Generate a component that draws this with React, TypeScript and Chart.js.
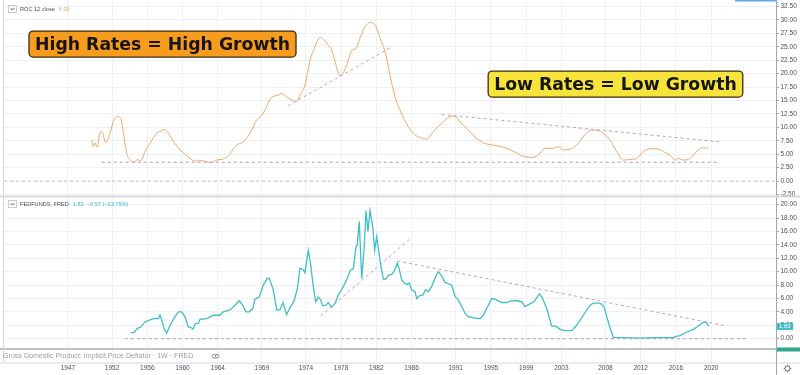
import React, { useEffect, useRef } from 'react';
import { Chart, registerables } from 'chart.js';

Chart.register(...registerables);

const FONT = "'Liberation Sans', Arial, sans-serif";

// ROC 12 of GDP Implicit Price Deflator (top pane)
const rocYears = [1949.69, 1949.84, 1950.06, 1950.29, 1950.71, 1950.94, 1951.28, 1951.77, 1952.22, 1952.6, 1952.98, 1953.36, 1953.66, 1954.04, 1954.49, 1954.87, 1955.25, 1955.74, 1956.31, 1957.07, 1957.44, 1957.9, 1958.27, 1958.88, 1959.41, 1960.09, 1960.65, 1961.42, 1961.98, 1962.74, 1963.23, 1963.88, 1964.63, 1965.2, 1966.15, 1966.9, 1967.77, 1968.42, 1968.79, 1969.36, 1970.01, 1970.87, 1971.26, 1971.82, 1972.39, 1972.96, 1973.33, 1973.9, 1974.47, 1975.04, 1975.6, 1975.98, 1976.55, 1976.93, 1977.42, 1977.87, 1978.33, 1978.82, 1979.2, 1979.69, 1980.14, 1980.71, 1981.28, 1981.85, 1982.41, 1982.98, 1983.55, 1984.12, 1984.68, 1985.63, 1986.39, 1986.96, 1987.72, 1988.46, 1989.41, 1990.36, 1990.93, 1991.49, 1992.26, 1993.2, 1994.33, 1995.27, 1996.8, 1997.93, 1998.87, 1999.81, 2000.58, 2001.14, 2002.09, 2002.65, 2003.22, 2003.98, 2004.74, 2005.68, 2006.44, 2007.19, 2007.76, 2008.52, 2009.28, 2010.03, 2010.79, 2011.55, 2012.3, 2013.06, 2013.82, 2014.57, 2015.33, 2015.9, 2016.27, 2016.84, 2017.41, 2017.98, 2018.54, 2019.11, 2019.68];
const rocValues = [7.6, 6.4, 7.1, 6.3, 9.2, 8.9, 7.2, 8.9, 11.4, 12.0, 11.7, 8.2, 5.2, 4.0, 3.4, 4.0, 3.8, 5.5, 7.0, 8.9, 9.2, 9.6, 9.2, 7.6, 6.4, 5.2, 4.5, 3.7, 3.8, 3.6, 3.4, 3.9, 4.1, 4.7, 6.7, 7.3, 9.2, 11.4, 11.9, 13.2, 15.4, 16.0, 16.3, 15.7, 15.1, 14.8, 16.0, 17.9, 22.5, 25.0, 26.8, 26.4, 25.3, 24.4, 21.6, 19.6, 20.4, 22.5, 24.3, 24.7, 26.6, 28.7, 29.5, 29.1, 26.6, 24.1, 19.7, 15.7, 13.2, 10.1, 8.6, 8.1, 7.8, 9.2, 10.7, 12.0, 12.1, 11.0, 9.8, 8.2, 7.0, 6.7, 6.1, 5.2, 4.5, 4.4, 5.2, 6.1, 6.1, 6.4, 5.8, 5.9, 6.7, 8.6, 9.5, 9.4, 8.9, 7.6, 5.5, 3.9, 4.0, 4.2, 5.5, 6.0, 6.0, 5.5, 4.8, 3.9, 4.2, 3.9, 4.0, 4.8, 5.8, 6.2, 6.09];

// FEDFUNDS (bottom pane)
const fedYears = [1954.15, 1954.49, 1954.87, 1955.25, 1955.74, 1956.31, 1956.68, 1957.25, 1957.44, 1957.64, 1957.9, 1958.2, 1958.58, 1959.14, 1959.52, 1959.91, 1960.28, 1960.65, 1961.04, 1961.22, 1961.42, 1961.79, 1961.98, 1962.74, 1963.49, 1964.25, 1964.63, 1965.39, 1965.96, 1966.44, 1966.83, 1967.2, 1967.58, 1967.96, 1968.23, 1968.71, 1969.17, 1969.62, 1969.85, 1970.3, 1970.69, 1971.06, 1971.4, 1971.8, 1972.2, 1972.65, 1973.03, 1973.33, 1973.71, 1973.9, 1974.28, 1974.55, 1974.84, 1975.12, 1975.41, 1975.68, 1975.91, 1976.28, 1976.55, 1976.93, 1977.31, 1977.68, 1978.07, 1978.63, 1979.09, 1979.38, 1979.69, 1979.84, 1980.06, 1980.34, 1980.6, 1980.83, 1981.05, 1981.28, 1981.59, 1981.81, 1982.04, 1982.22, 1982.49, 1982.79, 1983.1, 1983.36, 1983.74, 1984.0, 1984.38, 1984.61, 1984.88, 1985.14, 1985.51, 1985.74, 1986.01, 1986.39, 1986.58, 1986.88, 1987.26, 1987.6, 1987.9, 1988.28, 1988.66, 1989.03, 1989.41, 1989.79, 1990.17, 1990.55, 1990.93, 1991.3, 1991.69, 1992.06, 1992.44, 1993.01, 1993.77, 1994.14, 1995.09, 1995.47, 1996.23, 1996.8, 1997.17, 1997.93, 1998.5, 1998.87, 1999.44, 1999.89, 2000.5, 2000.77, 2001.34, 2001.9, 2002.47, 2002.84, 2003.41, 2004.17, 2004.74, 2005.49, 2006.25, 2006.63, 2007.39, 2007.84, 2008.21, 2008.6, 2008.9, 2010.0, 2011.93, 2013.63, 2015.71, 2016.0, 2016.47, 2017.23, 2017.98, 2018.54, 2019.04, 2019.42, 2019.72];
const fedValues = [0.9, 0.9, 1.55, 1.7, 2.5, 2.8, 3.0, 3.0, 3.5, 2.8, 1.55, 0.8, 2.0, 3.3, 4.0, 4.0, 3.3, 1.8, 1.6, 1.45, 2.2, 2.3, 2.9, 3.0, 3.5, 3.5, 4.0, 4.3, 5.0, 5.7, 5.0, 4.0, 4.0, 4.5, 5.9, 6.2, 8.0, 9.0, 9.0, 7.3, 4.3, 4.3, 5.4, 3.6, 4.6, 5.6, 7.4, 10.5, 10.3, 9.85, 13.2, 11.0, 7.8, 5.5, 6.2, 5.8, 4.9, 5.0, 5.4, 4.7, 5.3, 6.5, 7.3, 8.8, 10.3, 10.4, 13.7, 14.0, 17.5, 9.0, 13.2, 19.1, 16.0, 19.1, 16.7, 13.2, 15.2, 13.5, 11.0, 8.9, 8.9, 9.5, 9.6, 10.0, 11.3, 10.3, 8.8, 8.3, 8.1, 8.3, 7.3, 7.0, 6.0, 6.4, 6.5, 7.3, 7.0, 7.8, 9.0, 10.0, 9.4, 8.4, 8.2, 8.0, 6.3, 5.8, 4.8, 3.8, 3.3, 3.1, 3.0, 3.5, 6.0, 5.9, 5.4, 5.4, 5.6, 5.7, 5.5, 4.8, 5.2, 5.5, 6.7, 6.3, 4.5, 1.9, 1.8, 1.4, 1.2, 1.2, 2.0, 3.5, 5.0, 5.3, 5.3, 4.8, 3.0, 1.3, 0.2, 0.15, 0.1, 0.15, 0.15, 0.35, 0.45, 1.0, 1.4, 1.9, 2.4, 2.5, 1.83];

// drawn trend lines
const rocUpYears = [1971.97, 1983.55];
const rocUpValues = [14.0, 24.8];
const rocDownYears = [1989.42, 2020.93];
const rocDownValues = [12.4, 7.3];
const rocFloorYears = [1950.83, 2020.63];
const rocFloorValues = [3.5, 3.5];
const fedUpYears = [1975.68, 1985.82];
const fedUpValues = [3.4, 14.9];
const fedDownYears = [1984.38, 2021.38];
const fedDownValues = [11.6, 2.0];
const fedFloorYears = [1953.47, 2024.18];
const fedFloorValues = [0, 0];

// axes
const xMinYear = 1939.74;
const xMaxYear = 2027.36;
const xTickYears = [1947, 1952, 1956, 1960, 1964, 1969, 1974, 1978, 1982, 1986, 1991, 1995, 1999, 2003, 2008, 2012, 2016, 2020];
const rocTicks = [-2.5, 0, 2.5, 5, 7.5, 10, 12.5, 15, 17.5, 20, 22.5, 25, 27.5, 30, 32.5];
const fedTicks = [0, 2, 4, 6, 8, 10, 12, 14, 16, 18, 20];
const rocAxisMin = -2.886;
const rocAxisMax = 33.71;
const fedAxisMin = -1.537;
const fedAxisMax = 21.22;
const rocZeroYears = [xMinYear, xMaxYear];
const rocZeroValues = [0, 0];

// texts
const rocTitle = 'ROC 12 close';
const rocLast = '6.09';
const fedTitle = 'FEDFUNDS, FRED';
const fedLast = '1.83';
const fedChange = '\u22120.57 (\u221223.75%)';
const gdpTitle = 'Gross Domestic Product: Implicit Price Deflator \u00b7 1W \u00b7 FRED';
const highNote = 'High Rates = High Growth';
const lowNote = 'Low Rates = Low Growth';
const highNoteYear = 1957.73;
const highNoteValue = 25.5;
const lowNoteYear = 2009.14;
const lowNoteValue = 18.06;

const pts = (xs: number[], ys: number[]) => xs.map((x, i) => ({ x, y: ys[i] }));

const GRID = '#eef0f4';
const AXIS = '#a3a6af';
const TEXT = '#4a4e57';
const ORANGE = '#f2a66a';
const TEAL = '#3fbdc8';
const TREND = '#c99ac6';

export default function App() {
  const ref = useRef<HTMLCanvasElement>(null);

  useEffect(() => {
    document.body.style.margin = '0';
    const canvas = ref.current!;

    const overlay = {
      id: 'overlay',
      afterDraw(chart: any) {
        const ctx = chart.ctx as CanvasRenderingContext2D;
        const ca = chart.chartArea;
        const sx = chart.scales.x;
        const sT = chart.scales.yTop;
        const sB = chart.scales.yBot;
        ctx.save();

        const hline = (y: number, color: string, w: number) => {
          ctx.beginPath();
          ctx.strokeStyle = color;
          ctx.lineWidth = w;
          ctx.moveTo(0, y);
          ctx.lineTo(800, y);
          ctx.stroke();
        };
        hline(sT.bottom, '#d6d8de', 2);
        hline(sB.bottom, '#a9acb4', 1.5);
        hline(ca.bottom + 0.5, '#d6d8de', 1);
        ctx.beginPath();
        ctx.strokeStyle = '#d6d8de';
        ctx.lineWidth = 1;
        ctx.moveTo(3.5, 0);
        ctx.lineTo(3.5, ca.bottom);
        ctx.stroke();
        ctx.beginPath();
        ctx.strokeStyle = AXIS;
        ctx.moveTo(ca.right + 0.5, ca.bottom);
        ctx.lineTo(ca.right + 0.5, 375);
        ctx.stroke();
        ctx.fillStyle = '#6aa6f0';
        ctx.fillRect(735, 0, ca.right - 735, 1.5);

        const toggle = (y: number) => {
          ctx.strokeStyle = '#c9ccd3';
          ctx.lineWidth = 1;
          ctx.strokeRect(8.5, y - 3.5, 8, 7);
          ctx.beginPath();
          ctx.strokeStyle = '#50535e';
          ctx.moveTo(10.8, y - 0.8);
          ctx.lineTo(12.5, y + 1);
          ctx.lineTo(14.2, y - 0.8);
          ctx.stroke();
        };
        ctx.textBaseline = 'middle';
        ctx.textAlign = 'left';
        ctx.font = `5.6px ${FONT}`;
        toggle(9);
        ctx.fillStyle = TEXT;
        ctx.fillText(rocTitle, 20, 9.5);
        let w = ctx.measureText(rocTitle).width;
        ctx.fillStyle = ORANGE;
        ctx.fillText(rocLast, 20 + w + 4, 9.5);

        toggle(204);
        ctx.fillStyle = TEXT;
        ctx.fillText(fedTitle, 20, 204.5);
        w = ctx.measureText(fedTitle).width;
        ctx.fillStyle = TEAL;
        ctx.fillText(fedLast + '  ' + fedChange, 20 + w + 4, 204.5);

        const ey = (sB.bottom + ca.bottom) / 2 + 0.5;
        ctx.font = `7.1px ${FONT}`;
        ctx.fillStyle = '#9a9da6';
        ctx.fillText(gdpTitle, 3, ey);
        ctx.strokeStyle = '#8a8d96';
        ctx.beginPath();
        ctx.ellipse(215.5, ey, 3.5, 2, 0, 0, Math.PI * 2);
        ctx.stroke();
        ctx.beginPath();
        ctx.arc(215.5, ey, 1, 0, Math.PI * 2);
        ctx.fillStyle = '#8a8d96';
        ctx.fill();

        const fy = sB.getPixelForValue(1.83);
        ctx.fillStyle = TEAL;
        ctx.fillRect(ca.right + 1, fy - 3.5, 16, 7);
        ctx.fillStyle = '#ffffff';
        ctx.font = `6px ${FONT}`;
        ctx.fillText(fedLast, ca.right + 3, fy + 0.3);
        ctx.fillStyle = '#2fa88f';
        ctx.fillRect(ca.right + 1, sB.bottom - 1.5, 800 - ca.right - 1, 4);

        ctx.strokeStyle = '#6a6d76';
        ctx.lineWidth = 1;
        ctx.beginPath();
        ctx.arc(787.5, 368.5, 2.6, 0, Math.PI * 2);
        ctx.stroke();
        for (let k = 0; k < 8; k++) {
          const a = (k * Math.PI) / 4;
          ctx.beginPath();
          ctx.moveTo(787.5 + Math.cos(a) * 2.6, 368.5 + Math.sin(a) * 2.6);
          ctx.lineTo(787.5 + Math.cos(a) * 3.8, 368.5 + Math.sin(a) * 3.8);
          ctx.stroke();
        }

        const note = (text: string, xv: number, yv: number, fill: string) => {
          const cx = sx.getPixelForValue(xv);
          const cy = sT.getPixelForValue(yv);
          ctx.font = `bold 17.3px 'DejaVu Sans', Verdana, sans-serif`;
          const tw = ctx.measureText(text).width + 12;
          const h = 26;
          ctx.beginPath();
          ctx.roundRect(cx - tw / 2, cy - h / 2, tw, h, 4);
          ctx.fillStyle = fill;
          ctx.fill();
          ctx.lineWidth = 1.3;
          ctx.strokeStyle = '#3b2b12';
          ctx.stroke();
          ctx.fillStyle = '#151515';
          ctx.textAlign = 'center';
          ctx.textBaseline = 'middle';
          ctx.fillText(text, cx, cy + 1);
          ctx.textAlign = 'left';
        };
        note(highNote, highNoteYear, highNoteValue, '#f89c1e');
        note(lowNote, lowNoteYear, lowNoteValue, '#f7e43a');

        ctx.restore();
      },
    };

    const dashed = (xs: number[], ys: number[], axis: string, color: string) => ({
      data: pts(xs, ys),
      yAxisID: axis,
      borderColor: color,
      borderWidth: 1,
      borderDash: [3, 3],
      pointRadius: 0,
      fill: false,
    });

    const noPad = (s: any) => {
      s.paddingTop = 0;
      s.paddingBottom = 0;
      s.paddingLeft = 0;
      s.paddingRight = 0;
    };

    const yCommon = (min: number, max: number, ticks: number[]) => ({
      type: 'linear',
      position: 'right',
      stack: 'panes',
      min,
      max,
      afterBuildTicks: (s: any) => {
        s.ticks = ticks.map((v) => ({ value: v }));
      },
      afterFit: (s: any) => {
        s.width = 24;
        noPad(s);
      },
      grid: { color: GRID, tickLength: 3, tickColor: AXIS },
      border: { display: true, color: AXIS },
      ticks: {
        padding: 1.5,
        color: TEXT,
        font: { size: 6.5, family: FONT },
        autoSkip: false,
        callback: (v: any) => Number(v).toFixed(2),
      },
    });

    const chart = new Chart(canvas, {
      type: 'line',
      data: {
        datasets: [
          dashed(rocZeroYears, rocZeroValues, 'yTop', '#c3c6cd'),
          dashed(rocFloorYears, rocFloorValues, 'yTop', '#b597c9'),
          dashed(rocUpYears, rocUpValues, 'yTop', TREND),
          dashed(rocDownYears, rocDownValues, 'yTop', TREND),
          dashed(fedFloorYears, fedFloorValues, 'yBot', '#b597c9'),
          dashed(fedUpYears, fedUpValues, 'yBot', TREND),
          dashed(fedDownYears, fedDownValues, 'yBot', TREND),
          {
            data: pts(rocYears, rocValues),
            yAxisID: 'yTop',
            borderColor: ORANGE,
            borderWidth: 1,
            pointRadius: 0,
            cubicInterpolationMode: 'monotone',
            fill: false,
          },
          {
            data: pts(fedYears, fedValues),
            yAxisID: 'yBot',
            borderColor: TEAL,
            borderWidth: 1.3,
            pointRadius: 0,
            tension: 0,
            fill: false,
          },
        ] as any,
      },
      options: {
        responsive: false,
        animation: false,
        events: [],
        layout: { padding: { left: 4, top: 0, right: 0, bottom: 0 } },
        plugins: { legend: { display: false }, tooltip: { enabled: false } },
        scales: {
          x: {
            type: 'linear',
            position: 'bottom',
            min: xMinYear,
            max: xMaxYear,
            afterBuildTicks: (s: any) => {
              s.ticks = xTickYears.map((v) => ({ value: v }));
            },
            afterFit: (s: any) => {
              s.height = 12.5;
              noPad(s);
            },
            grid: { color: GRID, drawTicks: false, tickLength: 0 },
            border: { display: false },
            ticks: {
              padding: 2,
              color: TEXT,
              font: { size: 6.5, family: FONT },
              autoSkip: false,
              maxRotation: 0,
              callback: (v: any) => String(v),
            },
          },
          yTop: { ...yCommon(rocAxisMin, rocAxisMax, rocTicks), stackWeight: 196.5 },
          yBot: { ...yCommon(fedAxisMin, fedAxisMax, fedTicks), stackWeight: 152.5 },
          yGdp: {
            type: 'linear',
            position: 'right',
            stack: 'panes',
            stackWeight: 13.5,
            min: 0,
            max: 1,
            afterFit: (s: any) => {
              s.width = 24;
              noPad(s);
            },
            grid: { display: false },
            border: { display: true, color: AXIS },
            ticks: { display: false },
          },
        } as any,
      },
      plugins: [overlay],
    });

    return () => chart.destroy();
  }, []);

  return (
    <div style={{ width: 800, height: 375, background: '#fff' }}>
      <canvas ref={ref} width={800} height={375} style={{ display: 'block' }} />
    </div>
  );
}
